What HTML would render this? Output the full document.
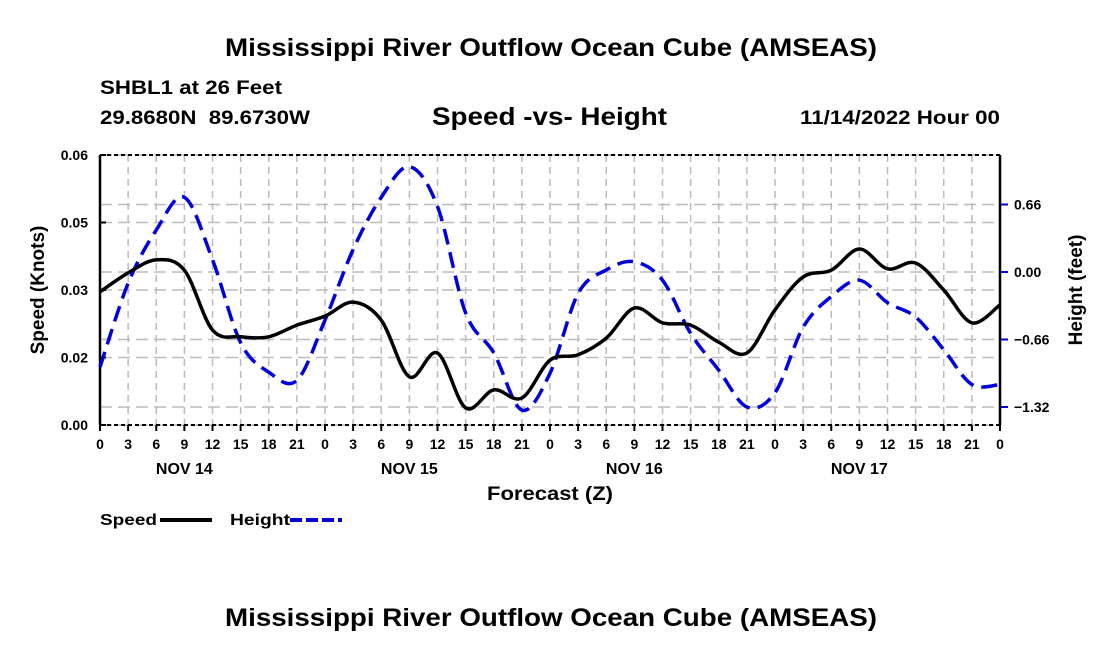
<!DOCTYPE html>
<html><head><meta charset="utf-8"><style>
body{margin:0;background:#fff;width:1100px;height:650px;overflow:hidden}
svg text{font-family:"Liberation Sans",Arial,sans-serif;font-weight:bold;fill:#000}
</style></head><body>
<svg id="c" width="1100" height="650">
<text x="225" y="56" font-size="25" textLength="652" lengthAdjust="spacingAndGlyphs">Mississippi River Outflow Ocean Cube (AMSEAS)</text>
<text x="100" y="94" font-size="19" textLength="182" lengthAdjust="spacingAndGlyphs">SHBL1 at 26 Feet</text>
<text x="100" y="124" font-size="19" textLength="210" lengthAdjust="spacingAndGlyphs" xml:space="preserve">29.8680N  89.6730W</text>
<text x="432" y="125" font-size="25" textLength="235" lengthAdjust="spacingAndGlyphs">Speed -vs- Height</text>
<text x="800" y="124" font-size="19" textLength="200" lengthAdjust="spacingAndGlyphs">11/14/2022 Hour 00</text>
<text x="487" y="500" font-size="19" textLength="126" lengthAdjust="spacingAndGlyphs">Forecast (Z)</text>
<text transform="translate(44,290) rotate(-90)" text-anchor="middle" font-size="19">Speed (Knots)</text>
<text transform="translate(1082,290) rotate(-90)" text-anchor="middle" font-size="19">Height (feet)</text>
<g>
<text x="100" y="525" font-size="16" textLength="57" lengthAdjust="spacingAndGlyphs">Speed</text>
<line x1="160" y1="520" x2="212" y2="520" stroke="#000" stroke-width="4"/>
<text x="230" y="525" font-size="16" textLength="60" lengthAdjust="spacingAndGlyphs">Height</text>
<line x1="290" y1="520" x2="342" y2="520" stroke="#0000dd" stroke-width="4" stroke-dasharray="12,4"/>
</g>
<text x="225" y="626" font-size="25" textLength="652" lengthAdjust="spacingAndGlyphs">Mississippi River Outflow Ocean Cube (AMSEAS)</text>
<g id="grid"></g><g id="axes"></g><g id="series"></g>
</svg>
<script>
const hours=[0,3,6,9,12,15,18,21,24,27,30,33,36,39,42,45,48,51,54,57,60,63,66,69,72,75,78,81,84,87,90,93,96];
const speed=[0.0296,0.0338,0.0367,0.0344,0.0211,0.0196,0.0196,0.0222,0.0242,0.0273,0.0233,0.0107,0.016,0.0038,0.0078,0.006,0.0144,0.0156,0.0193,0.026,0.0227,0.0222,0.0184,0.016,0.0256,0.0329,0.0344,0.0391,0.0347,0.036,0.03,0.0227,0.0267];
const height=[-0.93,-0.11,0.41,0.73,0.12,-0.69,-0.98,-1.06,-0.47,0.22,0.73,1.03,0.64,-0.40,-0.79,-1.35,-0.99,-0.21,0.02,0.10,-0.08,-0.60,-0.96,-1.32,-1.18,-0.54,-0.24,-0.08,-0.30,-0.44,-0.76,-1.10,-1.10];
const leftTickVals=[0,0.015,0.03,0.045,0.06];
const leftTickLabels=["0.00","0.02","0.03","0.05","0.06"];
const rightTickVals=[0.66,0,-0.66,-1.32];
const rightTickLabels=["0.66","0.00","−0.66","−1.32"];
const dayLabels=["NOV 14","NOV 15","NOV 16","NOV 17"];
const dayCenters=[9,33,57,81];
const X0=100,X1=1000,Y0=155,Y1=425;
const x=h=>X0+(h/96)*(X1-X0);
const yL=v=>Y1-(v/0.06)*(Y1-Y0);
const yR=v=>272-v*67.5/0.66;
const NS="http://www.w3.org/2000/svg";
function mk(t,a,p){const e=document.createElementNS(NS,t);for(const k in a)e.setAttribute(k,a[k]);p.appendChild(e);return e;}
const grid=document.getElementById('grid'),axes=document.getElementById('axes'),ser=document.getElementById('series');
for(let h=0;h<=96;h+=3){
 const l=mk('line',{x1:x(h),x2:x(h),y1:Y0,y2:Y1,stroke:'#bbb','stroke-width':1.5,'stroke-dasharray':'7,5'},grid);
 
 
 const tk=mk('line',{x1:x(h),x2:x(h),y1:Y1,y2:Y1+6,stroke:'#000','stroke-width':2},axes);
 
 
 const tl=mk('text',{x:x(h),y:449,'text-anchor':'middle','font-size':14},axes);tl.textContent=String(h%24);
 
 
}
dayLabels.forEach((d,i)=>{const t=mk('text',{x:x(dayCenters[i]),y:474,'text-anchor':'middle','font-size':16},axes);t.textContent=d;
 
 });
leftTickVals.forEach((v,i)=>{
 const g=mk('line',{x1:X0,x2:X1,y1:yL(v),y2:yL(v),stroke:'#bbb','stroke-width':1.5,'stroke-dasharray':'12,6'},grid);
 
 
 const t=mk('text',{x:X0-12,y:yL(v)+5,'text-anchor':'end','font-size':14},axes);t.textContent=leftTickLabels[i];
 
 
 mk('line',{x1:X0,x2:X0+6,y1:yL(v),y2:yL(v),stroke:'#000','stroke-width':2},axes);
});
rightTickVals.forEach((v,i)=>{
 const g=mk('line',{x1:X0,x2:X1,y1:yR(v),y2:yR(v),stroke:'#bbb','stroke-width':1.5,'stroke-dasharray':'12,6'},grid);
 
 
 mk('line',{x1:X1,x2:X1+8,y1:yR(v),y2:yR(v),stroke:'#0000dd','stroke-width':2},axes);
 const t=mk('text',{x:X1+14,y:yR(v)+5,'font-size':14},axes);t.textContent=rightTickLabels[i];
 
 
});
mk('line',{x1:X0,x2:X1,y1:Y0,y2:Y0,stroke:'#000','stroke-width':2,'stroke-dasharray':'4,3'},axes);
mk('line',{x1:X0,x2:X1,y1:Y1,y2:Y1,stroke:'#000','stroke-width':2,'stroke-dasharray':'4,3'},axes);
mk('line',{x1:X0,x2:X0,y1:Y0,y2:Y1,stroke:'#000','stroke-width':2.5},axes);
mk('line',{x1:X1,x2:X1,y1:Y0,y2:Y1,stroke:'#000','stroke-width':2.5},axes);
function path(pts){let d='M'+pts[0][0]+','+pts[0][1];
 for(let i=0;i<pts.length-1;i++){const p0=pts[Math.max(0,i-1)],p1=pts[i],p2=pts[i+1],p3=pts[Math.min(pts.length-1,i+2)];
  d+=' C'+(p1[0]+(p2[0]-p0[0])/6)+','+(p1[1]+(p2[1]-p0[1])/6)+' '+(p2[0]-(p3[0]-p1[0])/6)+','+(p2[1]-(p3[1]-p1[1])/6)+' '+p2[0]+','+p2[1];}
 return d;}
const hp=mk('path',{d:path(hours.map((h,i)=>[x(h),yR(height[i])])),fill:'none',stroke:'#0000dd','stroke-width':3.5,'stroke-dasharray':'16,8'},ser);


const sp=mk('path',{d:path(hours.map((h,i)=>[x(h),yL(speed[i])])),fill:'none',stroke:'#000','stroke-width':3.5},ser);


</script>
</body></html>
